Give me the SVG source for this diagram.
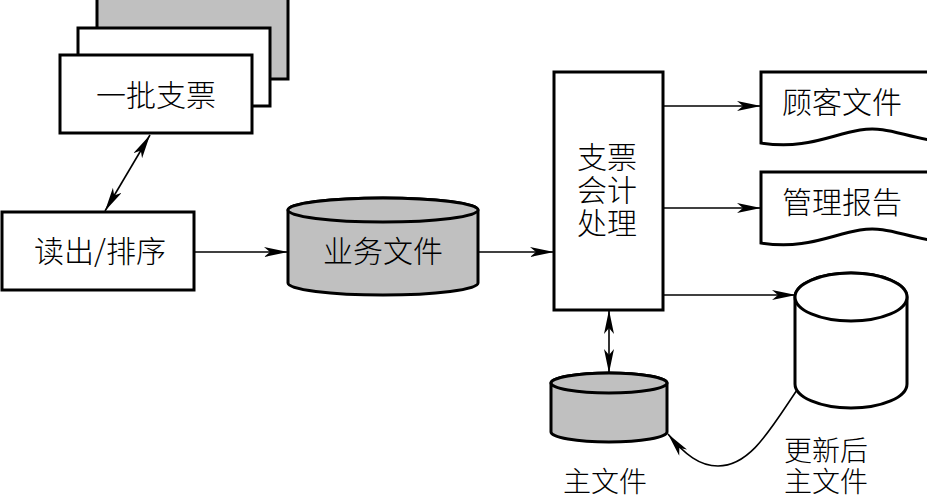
<svg xmlns="http://www.w3.org/2000/svg" width="927" height="500" viewBox="0 0 927 500">
<style>
.box{fill:#fff;stroke:#000;stroke-width:3}
.gray{fill:#c0c0c0;stroke:#000;stroke-width:3}
.wht{fill:#fff;stroke:#000;stroke-width:3}
.edge{fill:none;stroke:#000;stroke-width:1.6}
text{font-family:"Noto Sans CJK SC","Noto Sans CJK JP",sans-serif;font-weight:300;font-size:30px;fill:#000;text-anchor:middle}
.sm{font-size:28px}
</style>
<defs>
<marker id="ah" markerUnits="userSpaceOnUse" markerWidth="26" markerHeight="12" refX="24" refY="5" orient="auto-start-reverse">
<path d="M0,0 L24,5 L0,10 L6,5 z" fill="#000"/>
</marker>
</defs>
<rect width="927" height="500" fill="#fff"/>
<g id="cheques">
<rect class="gray" x="97" y="-5" width="191" height="84"/>
<rect class="box" x="78" y="28" width="192" height="78"/>
<rect class="box" x="60" y="55" width="192" height="78"/>
<text x="156" y="106">一批支票</text>
</g>
<g id="readsort">
<rect class="box" x="2" y="212" width="192" height="78"/>
<text x="100" y="262">读出/排序</text>
</g>
<g id="transfile">
<path class="gray" d="M288,210 L288,283 A95,12 0 0 0 478,283 L478,210 A95,12 0 0 0 288,210 Z"/>
<ellipse class="gray" cx="383" cy="210" rx="95" ry="12"/>
<text x="383" y="262">业务文件</text>
</g>
<g id="process">
<rect class="box" x="554" y="72" width="109" height="238"/>
<text x="607" y="168"><tspan x="607" y="168">支票</tspan><tspan x="607" y="201">会计</tspan><tspan x="607" y="234">处理</tspan></text>
</g>
<g id="custfile">
<path class="box" d="M761,72 L930,72 L930,140 C900,135 885,126 860,130 C830,135 805,150 761,143 Z"/>
<text x="842" y="113">顾客文件</text>
</g>
<g id="mgmtreport">
<path class="box" d="M761,172 L930,172 L930,240 C900,235 885,226 860,230 C830,235 805,250 761,243 Z"/>
<text x="842" y="213">管理报告</text>
</g>
<g id="newmaster">
<path class="wht" d="M795,297 L795,384 A56,24 0 0 0 907,384 L907,297 A56,24 0 0 0 795,297 Z"/>
<ellipse class="wht" cx="851" cy="297" rx="56" ry="24"/>
<text class="sm" x="826" y="461"><tspan x="826" y="461">更新后</tspan><tspan x="826" y="492">主文件</tspan></text>
</g>
<g id="master">
<path class="gray" d="M551,383 L551,432 A58,10 0 0 0 667,432 L667,383 A58,10 0 0 0 551,383 Z"/>
<ellipse class="gray" cx="609" cy="383" rx="58" ry="10"/>
<text class="sm" x="605" y="492">主文件</text>
</g>
<g id="connectors">
<line class="edge" x1="105" y1="211" x2="150" y2="135" marker-start="url(#ah)" marker-end="url(#ah)"/>
<line class="edge" x1="194" y1="252" x2="288" y2="252" marker-end="url(#ah)"/>
<line class="edge" x1="478" y1="252" x2="554" y2="252" marker-end="url(#ah)"/>
<line class="edge" x1="663" y1="106" x2="761" y2="106" marker-end="url(#ah)"/>
<line class="edge" x1="663" y1="208" x2="761" y2="208" marker-end="url(#ah)"/>
<line class="edge" x1="663" y1="295" x2="796" y2="295" marker-end="url(#ah)"/>
<line class="edge" x1="609" y1="310" x2="609" y2="373" marker-start="url(#ah)" marker-end="url(#ah)"/>
<path class="edge" d="M797,390 C770,430 750,466 718,466 C700,466 685,455 668,434" marker-end="url(#ah)"/>
</g>
</svg>
